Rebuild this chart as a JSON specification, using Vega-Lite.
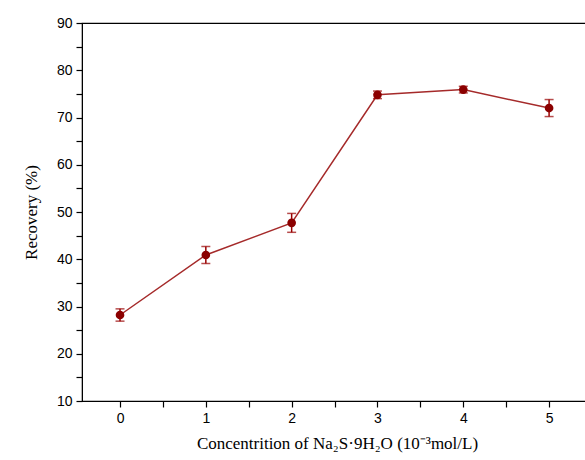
{
  "$schema": "https://vega.github.io/schema/vega-lite/v6.json",
  "autosize": "none",
  "padding": {"left": 82, "top": 23, "right": 0, "bottom": 59},
  "width": 510,
  "height": 378,
  "background": "white",
  "view": {"stroke": "black", "strokeWidth": 1.2},
  "data": {
    "values": [
      {"c": 0, "r": 28.2, "e": 1.3},
      {"c": 1, "r": 40.9, "e": 1.8},
      {"c": 2, "r": 47.7, "e": 2.0},
      {"c": 3, "r": 74.8, "e": 0.8},
      {"c": 4, "r": 75.9, "e": 0.7},
      {"c": 5, "r": 72.0, "e": 1.8}
    ]
  },
  "transform": [
    {"calculate": "datum.r - datum.e", "as": "lo"},
    {"calculate": "datum.r + datum.e", "as": "hi"}
  ],
  "encoding": {
    "x": {
      "field": "c", "type": "quantitative",
      "scale": {"domain": [-0.443, 5.5], "nice": false, "zero": false},
      "axis": {
        "title": "Concentrition of Na\u2082S\u00b79H\u2082O (10\u207b\u00b3mol/L)",
        "titleFont": "Liberation Serif", "titleFontSize": 17, "titleFontWeight": "normal", "titleColor": "black", "titlePadding": 10,
        "values": [0, 0.5, 1, 1.5, 2, 2.5, 3, 3.5, 4, 4.5, 5],
        "labelExpr": "datum.value % 1 == 0 ? format(datum.value, 'd') : ''",
        "labelFont": "Liberation Sans", "labelFontSize": 14, "labelColor": "black", "labelPadding": 4,
        "grid": false, "domainColor": "black", "tickColor": "black", "tickSize": 6, "tickWidth": 1.2,
        "encode": {"ticks": {"update": {"y2": {"signal": "datum.value % 1 == 0 ? 6 : 3"}}}}
      }
    },
    "y": {
      "field": "r", "type": "quantitative",
      "scale": {"domain": [10, 90], "nice": false, "zero": false},
      "axis": {
        "title": "Recovery (%)",
        "titleFont": "Liberation Serif", "titleFontSize": 17, "titleFontWeight": "normal", "titleColor": "black", "titlePadding": 16,
        "values": [10, 15, 20, 25, 30, 35, 40, 45, 50, 55, 60, 65, 70, 75, 80, 85, 90],
        "labelExpr": "datum.value % 10 == 0 ? datum.label : ''",
        "labelFont": "Liberation Sans", "labelFontSize": 14, "labelColor": "black", "labelPadding": 4,
        "grid": false, "domainColor": "black", "tickColor": "black", "tickSize": 6, "tickWidth": 1.2,
        "encode": {"ticks": {"update": {"x2": {"signal": "datum.value % 10 == 0 ? -6 : -3"}}}}
      }
    }
  },
  "layer": [
    {"mark": {"type": "line", "color": "#a52a2a", "strokeWidth": 1.5}},
    {
      "mark": {"type": "errorbar", "ticks": {"size": 9}, "color": "#990000", "thickness": 1.5},
      "encoding": {"y": {"field": "lo", "type": "quantitative"}, "y2": {"field": "hi"}}
    },
    {"mark": {"type": "point", "filled": true, "size": 75, "color": "#8b0000", "opacity": 1}}
  ]
}
